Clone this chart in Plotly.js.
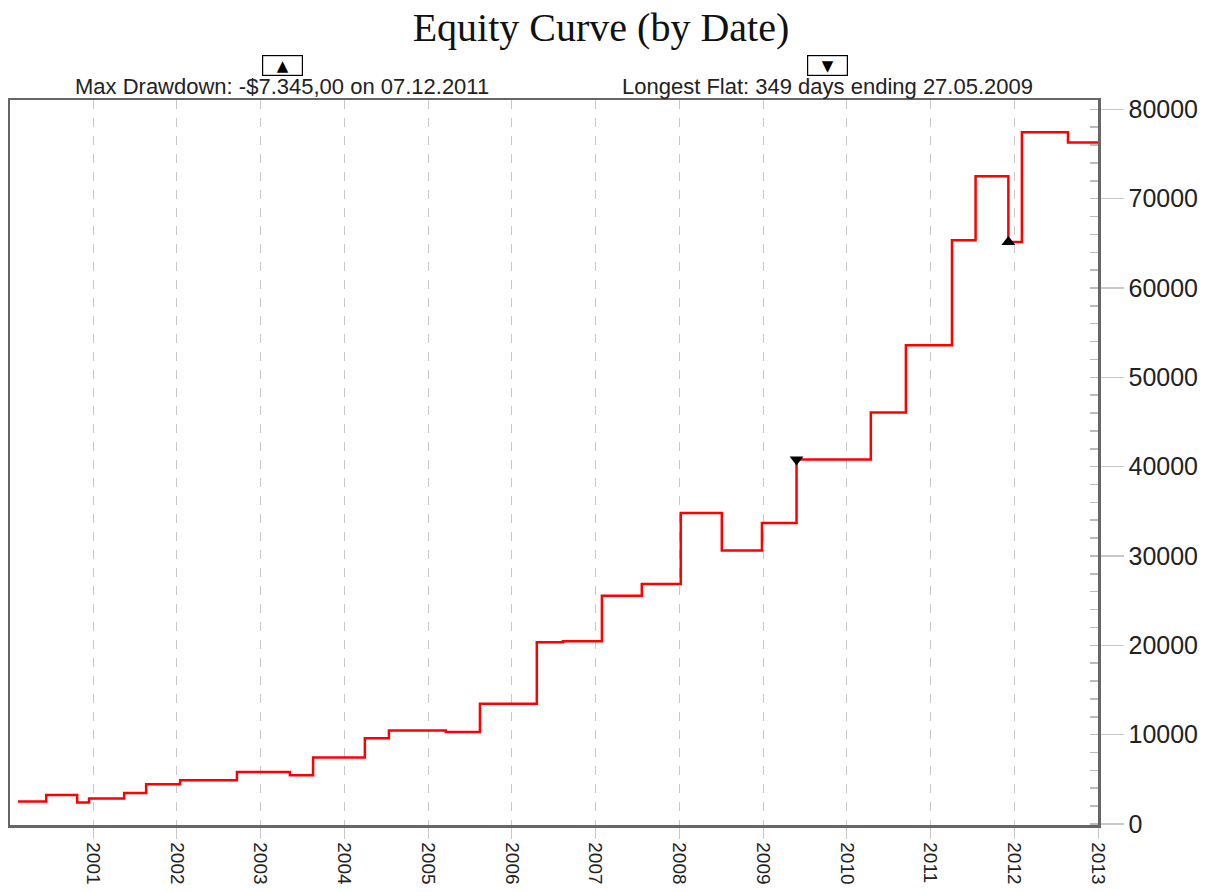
<!DOCTYPE html>
<html>
<head>
<meta charset="utf-8">
<script src="https://cdn.plot.ly/plotly-3.0.1.min.js"></script>
<style>html,body{margin:0;padding:0;background:#fff;}#chart{width:1219px;height:892px;}</style>
</head>
<body>
<div id="chart"></div>
<script>
// Equity steps: date each level starts, and the equity value
const stepDates = ["2000-02-08","2000-06-10","2000-10-23","2000-12-14","2001-05-16","2001-08-20",
  "2002-01-15","2002-09-20","2003-05-09","2003-08-18","2004-03-31","2004-07-14","2005-03-19",
  "2005-08-15","2006-04-20","2006-08-12","2007-01-29","2007-07-22","2008-01-08","2008-07-05",
  "2008-12-27","2009-05-27","2010-04-16","2010-09-16","2011-04-05","2011-07-17","2011-12-07",
  "2012-02-04","2012-08-23","2013-01-01"];
const equity = [2500,3250,2400,2850,3450,4450,4900,5800,5450,7450,9600,10450,10300,13450,20350,20450,
  25550,26850,34800,30600,33700,40800,46050,53600,65350,72500,65155,77450,76300,76300];

const maxDrawdownDate = ["2011-12-07"];
const maxDrawdownValue = [65155];
const flatEndDate = ["2009-05-27"];
const flatEndValue = [40800];

const yearTicks = ["2001","2002","2003","2004","2005","2006","2007","2008","2009","2010","2011","2012","2013"];
const yearTickVals = yearTicks.map(y => y + "-01-01");

const titleText = "Equity Curve (by Date)";
const drawdownText = "Max Drawdown: -$7.345,00 on 07.12.2011";
const flatText = "Longest Flat: 349 days ending 27.05.2009";

const traces = [
  {x: stepDates, y: equity, type: "scatter", mode: "lines", line: {shape: "hv", color: "#ff0000", width: 2.5}, hoverinfo: "x+y"},
  {x: flatEndDate, y: flatEndValue, type: "scatter", mode: "markers", marker: {symbol: "triangle-down", size: 12, color: "#000"}},
  {x: maxDrawdownDate, y: maxDrawdownValue, type: "scatter", mode: "markers", marker: {symbol: "triangle-up", size: 12, color: "#000"}}
];

const layout = {
  width: 1219, height: 892,
  margin: {l: 10, r: 121, t: 100, b: 67},
  paper_bgcolor: "#fff", plot_bgcolor: "#fff",
  showlegend: false,
  title: {text: titleText, font: {family: "Liberation Serif, Times New Roman, serif", size: 40, color: "#111"},
    x: 0.493, xref: "container", xanchor: "center", y: 0.970, yref: "container", yanchor: "middle"},
  xaxis: {
    type: "date", range: ["2000-01-04", "2013-01-01"],
    tickmode: "array", tickvals: yearTickVals, ticktext: yearTicks, tickangle: 90,
    ticks: "outside", ticklen: 11, tickcolor: "#c8c8c8", tickwidth: 1,
    showgrid: true, gridcolor: "#c8c8c8", griddash: "dash", gridwidth: 1,
    showline: true, linecolor: "#666", linewidth: 2.5, mirror: true,
    zeroline: false,
    tickfont: {family: "Liberation Sans, Arial, sans-serif", size: 19, color: "#222"}
  },
  yaxis: {
    side: "right", range: [-120, 81050],
    tickmode: "linear", tick0: 0, dtick: 10000, tickformat: "d",
    ticks: "outside", ticklen: 23, tickcolor: "#c8c8c8", tickwidth: 1.5,
    minor: {dtick: 2000, ticks: "inside", ticklen: 8, tickcolor: "#bbbbbb", tickwidth: 1.5, showgrid: false},
    showgrid: false, zeroline: false,
    showline: true, linecolor: "#666", linewidth: 2.5, mirror: true,
    tickfont: {family: "Liberation Sans, Arial, sans-serif", size: 25, color: "#222"}
  },
  annotations: [
    {text: "▲", xref: "paper", yref: "paper", x: 0.25, y: 1.048, xanchor: "center", yanchor: "middle", showarrow: false,
      font: {family: "DejaVu Sans, sans-serif", size: 15, color: "#000"}, bordercolor: "#000", borderwidth: 1.2, width: 37, height: 17, bgcolor: "#fff"},
    {text: "▼", xref: "paper", yref: "paper", x: 0.751, y: 1.048, xanchor: "center", yanchor: "middle", showarrow: false,
      font: {family: "DejaVu Sans, sans-serif", size: 15, color: "#000"}, bordercolor: "#000", borderwidth: 1.2, width: 37, height: 17, bgcolor: "#fff"},
    {text: drawdownText, xref: "paper", yref: "paper", x: 0.25, y: 1.018, xanchor: "center", yanchor: "middle", showarrow: false,
      font: {family: "Liberation Sans, Arial, sans-serif", size: 22, color: "#222"}},
    {text: flatText, xref: "paper", yref: "paper", x: 0.751, y: 1.018, xanchor: "center", yanchor: "middle", showarrow: false,
      font: {family: "Liberation Sans, Arial, sans-serif", size: 22, color: "#222"}}
  ]
};

Plotly.newPlot("chart", traces, layout, {displayModeBar: false, staticPlot: true});
</script>
</body>
</html>
